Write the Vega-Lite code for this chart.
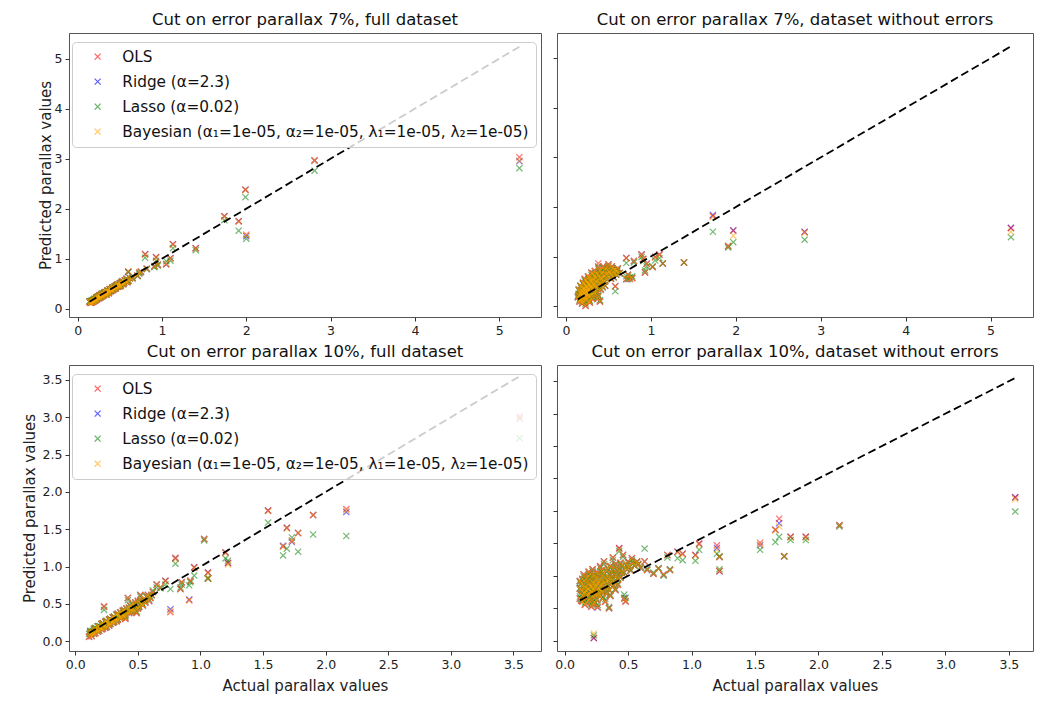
{
  "$schema": "https://vega.github.io/schema/vega-lite/v6.json",
  "background": "white",
  "padding": {"left": 21, "top": 11, "right": 4, "bottom": 4},
  "config": {
    "font": "DejaVu Sans",
    "view": {"stroke": "#555555", "strokeWidth": 1},
    "axis": {"grid": false, "domain": false, "tickColor": "#333333", "tickSize": 4, "labelFontSize": 12.5, "labelColor": "#222222", "labelPadding": 3, "titleFontSize": 15, "titleFontWeight": "normal", "titleColor": "#222222", "titlePadding": 5},
    "axisX": {"titlePadding": 8},
    "title": {"fontSize": 16.5, "fontWeight": "normal", "color": "#111111", "offset": 5, "anchor": "middle"},
    "legend": {"orient": "none", "legendX": 3, "legendY": 9, "padding": 7, "fillColor": "rgba(255,255,255,0.8)", "strokeColor": "#cccccc", "cornerRadius": 4, "labelFontSize": 15.3, "labelColor": "#111111", "symbolType": "M-1,-1L1,1M-1,1L1,-1", "symbolSize": 36, "symbolStrokeWidth": 1.3, "symbolOpacity": 0.6, "symbolFillColor": "transparent", "symbolOffset": 11, "labelOffset": 17, "rowPadding": 9, "labelLimit": 700}
  },
  "datasets": {
    "pts": [
      {"panel":"A","actual":0.15,"OLS":0.12,"Ridge":0.12,"Lasso":0.14,"Bayesian":0.12},
      {"panel":"A","actual":0.16,"OLS":0.15,"Ridge":0.15,"Lasso":0.16,"Bayesian":0.15},
      {"panel":"A","actual":0.17,"OLS":0.13,"Ridge":0.13,"Lasso":0.15,"Bayesian":0.13},
      {"panel":"A","actual":0.18,"OLS":0.17,"Ridge":0.17,"Lasso":0.18,"Bayesian":0.17},
      {"panel":"A","actual":0.19,"OLS":0.15,"Ridge":0.15,"Lasso":0.16,"Bayesian":0.15},
      {"panel":"A","actual":0.20,"OLS":0.19,"Ridge":0.19,"Lasso":0.20,"Bayesian":0.19},
      {"panel":"A","actual":0.21,"OLS":0.17,"Ridge":0.17,"Lasso":0.18,"Bayesian":0.17},
      {"panel":"A","actual":0.22,"OLS":0.22,"Ridge":0.22,"Lasso":0.22,"Bayesian":0.22},
      {"panel":"A","actual":0.23,"OLS":0.19,"Ridge":0.19,"Lasso":0.20,"Bayesian":0.19},
      {"panel":"A","actual":0.24,"OLS":0.24,"Ridge":0.24,"Lasso":0.23,"Bayesian":0.24},
      {"panel":"A","actual":0.25,"OLS":0.21,"Ridge":0.21,"Lasso":0.22,"Bayesian":0.21},
      {"panel":"A","actual":0.26,"OLS":0.27,"Ridge":0.27,"Lasso":0.26,"Bayesian":0.27},
      {"panel":"A","actual":0.27,"OLS":0.23,"Ridge":0.23,"Lasso":0.24,"Bayesian":0.23},
      {"panel":"A","actual":0.28,"OLS":0.25,"Ridge":0.25,"Lasso":0.26,"Bayesian":0.25},
      {"panel":"A","actual":0.29,"OLS":0.30,"Ridge":0.30,"Lasso":0.29,"Bayesian":0.30},
      {"panel":"A","actual":0.30,"OLS":0.26,"Ridge":0.26,"Lasso":0.27,"Bayesian":0.26},
      {"panel":"A","actual":0.31,"OLS":0.28,"Ridge":0.28,"Lasso":0.29,"Bayesian":0.28},
      {"panel":"A","actual":0.32,"OLS":0.33,"Ridge":0.33,"Lasso":0.32,"Bayesian":0.33},
      {"panel":"A","actual":0.33,"OLS":0.29,"Ridge":0.29,"Lasso":0.30,"Bayesian":0.29},
      {"panel":"A","actual":0.34,"OLS":0.31,"Ridge":0.31,"Lasso":0.32,"Bayesian":0.31},
      {"panel":"A","actual":0.35,"OLS":0.36,"Ridge":0.36,"Lasso":0.35,"Bayesian":0.36},
      {"panel":"A","actual":0.36,"OLS":0.32,"Ridge":0.32,"Lasso":0.33,"Bayesian":0.32},
      {"panel":"A","actual":0.37,"OLS":0.34,"Ridge":0.34,"Lasso":0.35,"Bayesian":0.34},
      {"panel":"A","actual":0.38,"OLS":0.39,"Ridge":0.39,"Lasso":0.38,"Bayesian":0.39},
      {"panel":"A","actual":0.39,"OLS":0.35,"Ridge":0.35,"Lasso":0.36,"Bayesian":0.35},
      {"panel":"A","actual":0.40,"OLS":0.37,"Ridge":0.37,"Lasso":0.38,"Bayesian":0.37},
      {"panel":"A","actual":0.41,"OLS":0.42,"Ridge":0.42,"Lasso":0.41,"Bayesian":0.42},
      {"panel":"A","actual":0.42,"OLS":0.38,"Ridge":0.38,"Lasso":0.39,"Bayesian":0.38},
      {"panel":"A","actual":0.43,"OLS":0.41,"Ridge":0.41,"Lasso":0.42,"Bayesian":0.41},
      {"panel":"A","actual":0.44,"OLS":0.45,"Ridge":0.45,"Lasso":0.44,"Bayesian":0.45},
      {"panel":"A","actual":0.45,"OLS":0.41,"Ridge":0.41,"Lasso":0.42,"Bayesian":0.41},
      {"panel":"A","actual":0.46,"OLS":0.44,"Ridge":0.44,"Lasso":0.45,"Bayesian":0.44},
      {"panel":"A","actual":0.47,"OLS":0.48,"Ridge":0.48,"Lasso":0.47,"Bayesian":0.48},
      {"panel":"A","actual":0.48,"OLS":0.44,"Ridge":0.44,"Lasso":0.45,"Bayesian":0.44},
      {"panel":"A","actual":0.49,"OLS":0.47,"Ridge":0.47,"Lasso":0.48,"Bayesian":0.47},
      {"panel":"A","actual":0.50,"OLS":0.51,"Ridge":0.51,"Lasso":0.50,"Bayesian":0.51},
      {"panel":"A","actual":0.51,"OLS":0.46,"Ridge":0.46,"Lasso":0.47,"Bayesian":0.46},
      {"panel":"A","actual":0.52,"OLS":0.50,"Ridge":0.50,"Lasso":0.51,"Bayesian":0.50},
      {"panel":"A","actual":0.53,"OLS":0.55,"Ridge":0.55,"Lasso":0.54,"Bayesian":0.55},
      {"panel":"A","actual":0.55,"OLS":0.52,"Ridge":0.52,"Lasso":0.53,"Bayesian":0.52},
      {"panel":"A","actual":0.57,"OLS":0.55,"Ridge":0.55,"Lasso":0.56,"Bayesian":0.55},
      {"panel":"A","actual":0.58,"OLS":0.60,"Ridge":0.60,"Lasso":0.58,"Bayesian":0.60},
      {"panel":"A","actual":0.60,"OLS":0.56,"Ridge":0.56,"Lasso":0.57,"Bayesian":0.56},
      {"panel":"A","actual":0.60,"OLS":0.74,"Ridge":0.74,"Lasso":0.73,"Bayesian":0.75},
      {"panel":"A","actual":0.62,"OLS":0.61,"Ridge":0.61,"Lasso":0.61,"Bayesian":0.61},
      {"panel":"A","actual":0.65,"OLS":0.61,"Ridge":0.61,"Lasso":0.62,"Bayesian":0.61},
      {"panel":"A","actual":0.71,"OLS":0.66,"Ridge":0.66,"Lasso":0.65,"Bayesian":0.66},
      {"panel":"A","actual":0.73,"OLS":0.72,"Ridge":0.72,"Lasso":0.70,"Bayesian":0.72},
      {"panel":"A","actual":0.75,"OLS":0.74,"Ridge":0.74,"Lasso":0.73,"Bayesian":0.74},
      {"panel":"A","actual":0.80,"OLS":1.09,"Ridge":1.09,"Lasso":1.02,"Bayesian":1.08},
      {"panel":"A","actual":0.82,"OLS":0.80,"Ridge":0.80,"Lasso":0.79,"Bayesian":0.80},
      {"panel":"A","actual":0.91,"OLS":0.85,"Ridge":0.85,"Lasso":0.83,"Bayesian":0.85},
      {"panel":"A","actual":0.93,"OLS":1.03,"Ridge":1.03,"Lasso":0.96,"Bayesian":1.02},
      {"panel":"A","actual":0.95,"OLS":0.88,"Ridge":0.88,"Lasso":0.86,"Bayesian":0.88},
      {"panel":"A","actual":1.05,"OLS":0.89,"Ridge":0.89,"Lasso":0.95,"Bayesian":0.90},
      {"panel":"A","actual":1.10,"OLS":1.01,"Ridge":1.01,"Lasso":0.96,"Bayesian":1.00},
      {"panel":"A","actual":1.13,"OLS":1.29,"Ridge":1.29,"Lasso":1.21,"Bayesian":1.28},
      {"panel":"A","actual":1.40,"OLS":1.21,"Ridge":1.21,"Lasso":1.17,"Bayesian":1.20},
      {"panel":"A","actual":1.74,"OLS":1.85,"Ridge":1.85,"Lasso":1.77,"Bayesian":1.84},
      {"panel":"A","actual":1.91,"OLS":1.75,"Ridge":1.75,"Lasso":1.56,"Bayesian":1.74},
      {"panel":"A","actual":1.99,"OLS":2.38,"Ridge":2.38,"Lasso":2.23,"Bayesian":2.37},
      {"panel":"A","actual":2.00,"OLS":1.48,"Ridge":1.45,"Lasso":1.40,"Bayesian":1.47},
      {"panel":"A","actual":2.81,"OLS":2.97,"Ridge":2.96,"Lasso":2.76,"Bayesian":2.96},
      {"panel":"A","actual":5.24,"OLS":3.03,"Ridge":2.95,"Lasso":2.81,"Bayesian":2.96},
      {"panel":"A","actual":0.14,"OLS":0.14,"Ridge":0.14,"Lasso":0.15,"Bayesian":0.14},
      {"panel":"A","actual":0.16,"OLS":0.12,"Ridge":0.12,"Lasso":0.14,"Bayesian":0.12},
      {"panel":"A","actual":0.18,"OLS":0.14,"Ridge":0.14,"Lasso":0.16,"Bayesian":0.14},
      {"panel":"A","actual":0.20,"OLS":0.16,"Ridge":0.16,"Lasso":0.17,"Bayesian":0.16},
      {"panel":"A","actual":0.22,"OLS":0.18,"Ridge":0.18,"Lasso":0.20,"Bayesian":0.18},
      {"panel":"A","actual":0.23,"OLS":0.23,"Ridge":0.23,"Lasso":0.23,"Bayesian":0.23},
      {"panel":"A","actual":0.25,"OLS":0.25,"Ridge":0.25,"Lasso":0.25,"Bayesian":0.25},
      {"panel":"A","actual":0.26,"OLS":0.22,"Ridge":0.22,"Lasso":0.23,"Bayesian":0.22},
      {"panel":"A","actual":0.28,"OLS":0.28,"Ridge":0.28,"Lasso":0.28,"Bayesian":0.28},
      {"panel":"A","actual":0.29,"OLS":0.25,"Ridge":0.25,"Lasso":0.26,"Bayesian":0.25},
      {"panel":"A","actual":0.31,"OLS":0.31,"Ridge":0.31,"Lasso":0.31,"Bayesian":0.31},
      {"panel":"A","actual":0.33,"OLS":0.33,"Ridge":0.33,"Lasso":0.33,"Bayesian":0.33},
      {"panel":"A","actual":0.34,"OLS":0.28,"Ridge":0.28,"Lasso":0.30,"Bayesian":0.28},
      {"panel":"A","actual":0.36,"OLS":0.36,"Ridge":0.36,"Lasso":0.36,"Bayesian":0.36},
      {"panel":"A","actual":0.37,"OLS":0.31,"Ridge":0.31,"Lasso":0.33,"Bayesian":0.31},
      {"panel":"A","actual":0.39,"OLS":0.39,"Ridge":0.39,"Lasso":0.38,"Bayesian":0.39},
      {"panel":"A","actual":0.41,"OLS":0.37,"Ridge":0.37,"Lasso":0.38,"Bayesian":0.37},
      {"panel":"A","actual":0.42,"OLS":0.42,"Ridge":0.42,"Lasso":0.42,"Bayesian":0.42},
      {"panel":"A","actual":0.44,"OLS":0.40,"Ridge":0.40,"Lasso":0.41,"Bayesian":0.40},
      {"panel":"A","actual":0.46,"OLS":0.47,"Ridge":0.47,"Lasso":0.46,"Bayesian":0.47},
      {"panel":"A","actual":0.48,"OLS":0.48,"Ridge":0.48,"Lasso":0.48,"Bayesian":0.48},
      {"panel":"A","actual":0.50,"OLS":0.45,"Ridge":0.45,"Lasso":0.46,"Bayesian":0.45},
      {"panel":"A","actual":0.52,"OLS":0.53,"Ridge":0.53,"Lasso":0.52,"Bayesian":0.53},
      {"panel":"A","actual":0.54,"OLS":0.49,"Ridge":0.49,"Lasso":0.50,"Bayesian":0.49},
      {"panel":"A","actual":0.56,"OLS":0.57,"Ridge":0.57,"Lasso":0.56,"Bayesian":0.57},
      {"panel":"A","actual":0.59,"OLS":0.53,"Ridge":0.53,"Lasso":0.55,"Bayesian":0.53},

      {"panel":"B","actual":0.15,"OLS":0.22,"Ridge":0.23,"Lasso":0.25,"Bayesian":0.22},
      {"panel":"B","actual":0.16,"OLS":0.30,"Ridge":0.30,"Lasso":0.31,"Bayesian":0.30},
      {"panel":"B","actual":0.17,"OLS":0.12,"Ridge":0.12,"Lasso":0.16,"Bayesian":0.12},
      {"panel":"B","actual":0.18,"OLS":0.38,"Ridge":0.38,"Lasso":0.36,"Bayesian":0.38},
      {"panel":"B","actual":0.18,"OLS":0.20,"Ridge":0.20,"Lasso":0.22,"Bayesian":0.20},
      {"panel":"B","actual":0.19,"OLS":0.05,"Ridge":0.05,"Lasso":0.09,"Bayesian":0.06},
      {"panel":"B","actual":0.20,"OLS":0.28,"Ridge":0.29,"Lasso":0.29,"Bayesian":0.28},
      {"panel":"B","actual":0.21,"OLS":0.45,"Ridge":0.45,"Lasso":0.42,"Bayesian":0.45},
      {"panel":"B","actual":0.21,"OLS":0.15,"Ridge":0.16,"Lasso":0.18,"Bayesian":0.15},
      {"panel":"B","actual":0.22,"OLS":0.35,"Ridge":0.35,"Lasso":0.35,"Bayesian":0.35},
      {"panel":"B","actual":0.23,"OLS":0.00,"Ridge":0.01,"Lasso":0.05,"Bayesian":0.01},
      {"panel":"B","actual":0.23,"OLS":0.25,"Ridge":0.25,"Lasso":0.26,"Bayesian":0.25},
      {"panel":"B","actual":0.24,"OLS":0.52,"Ridge":0.52,"Lasso":0.48,"Bayesian":0.52},
      {"panel":"B","actual":0.24,"OLS":0.40,"Ridge":0.40,"Lasso":0.40,"Bayesian":0.40},
      {"panel":"B","actual":0.25,"OLS":0.18,"Ridge":0.18,"Lasso":0.20,"Bayesian":0.18},
      {"panel":"B","actual":0.25,"OLS":0.32,"Ridge":0.32,"Lasso":0.32,"Bayesian":0.32},
      {"panel":"B","actual":0.26,"OLS":0.60,"Ridge":0.59,"Lasso":0.55,"Bayesian":0.59},
      {"panel":"B","actual":0.27,"OLS":0.45,"Ridge":0.45,"Lasso":0.44,"Bayesian":0.45},
      {"panel":"B","actual":0.27,"OLS":0.10,"Ridge":0.10,"Lasso":0.13,"Bayesian":0.10},
      {"panel":"B","actual":0.28,"OLS":0.30,"Ridge":0.30,"Lasso":0.31,"Bayesian":0.30},
      {"panel":"B","actual":0.29,"OLS":0.38,"Ridge":0.38,"Lasso":0.38,"Bayesian":0.38},
      {"panel":"B","actual":0.30,"OLS":0.55,"Ridge":0.55,"Lasso":0.52,"Bayesian":0.55},
      {"panel":"B","actual":0.30,"OLS":0.22,"Ridge":0.22,"Lasso":0.24,"Bayesian":0.22},
      {"panel":"B","actual":0.31,"OLS":0.48,"Ridge":0.48,"Lasso":0.47,"Bayesian":0.48},
      {"panel":"B","actual":0.32,"OLS":0.66,"Ridge":0.65,"Lasso":0.61,"Bayesian":0.65},
      {"panel":"B","actual":0.32,"OLS":0.35,"Ridge":0.35,"Lasso":0.36,"Bayesian":0.35},
      {"panel":"B","actual":0.33,"OLS":0.28,"Ridge":0.28,"Lasso":0.30,"Bayesian":0.28},
      {"panel":"B","actual":0.34,"OLS":0.42,"Ridge":0.42,"Lasso":0.42,"Bayesian":0.42},
      {"panel":"B","actual":0.35,"OLS":0.58,"Ridge":0.58,"Lasso":0.56,"Bayesian":0.58},
      {"panel":"B","actual":0.36,"OLS":0.50,"Ridge":0.50,"Lasso":0.49,"Bayesian":0.50},
      {"panel":"B","actual":0.37,"OLS":0.15,"Ridge":0.14,"Lasso":0.17,"Bayesian":0.15},
      {"panel":"B","actual":0.37,"OLS":0.35,"Ridge":0.35,"Lasso":0.37,"Bayesian":0.35},
      {"panel":"B","actual":0.38,"OLS":0.86,"Ridge":0.80,"Lasso":0.78,"Bayesian":0.80},
      {"panel":"B","actual":0.39,"OLS":0.62,"Ridge":0.62,"Lasso":0.60,"Bayesian":0.62},
      {"panel":"B","actual":0.40,"OLS":0.09,"Ridge":0.10,"Lasso":0.12,"Bayesian":0.10},
      {"panel":"B","actual":0.40,"OLS":0.45,"Ridge":0.45,"Lasso":0.45,"Bayesian":0.45},
      {"panel":"B","actual":0.41,"OLS":0.72,"Ridge":0.72,"Lasso":0.68,"Bayesian":0.72},
      {"panel":"B","actual":0.42,"OLS":0.55,"Ridge":0.55,"Lasso":0.54,"Bayesian":0.55},
      {"panel":"B","actual":0.43,"OLS":0.38,"Ridge":0.38,"Lasso":0.40,"Bayesian":0.38},
      {"panel":"B","actual":0.44,"OLS":0.80,"Ridge":0.80,"Lasso":0.76,"Bayesian":0.80},
      {"panel":"B","actual":0.45,"OLS":0.62,"Ridge":0.62,"Lasso":0.60,"Bayesian":0.62},
      {"panel":"B","actual":0.46,"OLS":0.50,"Ridge":0.50,"Lasso":0.50,"Bayesian":0.50},
      {"panel":"B","actual":0.48,"OLS":0.72,"Ridge":0.72,"Lasso":0.70,"Bayesian":0.72},
      {"panel":"B","actual":0.50,"OLS":0.84,"Ridge":0.84,"Lasso":0.80,"Bayesian":0.84},
      {"panel":"B","actual":0.50,"OLS":0.62,"Ridge":0.62,"Lasso":0.61,"Bayesian":0.62},
      {"panel":"B","actual":0.52,"OLS":0.68,"Ridge":0.68,"Lasso":0.66,"Bayesian":0.68},
      {"panel":"B","actual":0.53,"OLS":0.55,"Ridge":0.55,"Lasso":0.56,"Bayesian":0.55},
      {"panel":"B","actual":0.55,"OLS":0.75,"Ridge":0.75,"Lasso":0.73,"Bayesian":0.75},
      {"panel":"B","actual":0.57,"OLS":0.66,"Ridge":0.66,"Lasso":0.66,"Bayesian":0.66},
      {"panel":"B","actual":0.58,"OLS":0.40,"Ridge":0.40,"Lasso":0.30,"Bayesian":0.40},
      {"panel":"B","actual":0.58,"OLS":0.73,"Ridge":0.73,"Lasso":0.72,"Bayesian":0.73},
      {"panel":"B","actual":0.60,"OLS":0.70,"Ridge":0.70,"Lasso":0.69,"Bayesian":0.70},
      {"panel":"B","actual":0.63,"OLS":0.67,"Ridge":0.67,"Lasso":0.66,"Bayesian":0.67},
      {"panel":"B","actual":0.71,"OLS":0.97,"Ridge":0.97,"Lasso":0.87,"Bayesian":0.96},
      {"panel":"B","actual":0.71,"OLS":0.55,"Ridge":0.54,"Lasso":0.60,"Bayesian":0.55},
      {"panel":"B","actual":0.73,"OLS":0.63,"Ridge":0.63,"Lasso":0.54,"Bayesian":0.63},
      {"panel":"B","actual":0.75,"OLS":0.55,"Ridge":0.55,"Lasso":0.58,"Bayesian":0.55},
      {"panel":"B","actual":0.78,"OLS":0.56,"Ridge":0.57,"Lasso":0.60,"Bayesian":0.57},
      {"panel":"B","actual":0.80,"OLS":0.91,"Ridge":0.91,"Lasso":0.88,"Bayesian":0.91},
      {"panel":"B","actual":0.89,"OLS":1.04,"Ridge":1.04,"Lasso":0.99,"Bayesian":1.03},
      {"panel":"B","actual":0.91,"OLS":0.95,"Ridge":0.95,"Lasso":0.91,"Bayesian":0.94},
      {"panel":"B","actual":0.93,"OLS":0.68,"Ridge":0.68,"Lasso":0.72,"Bayesian":0.68},
      {"panel":"B","actual":0.95,"OLS":0.85,"Ridge":0.86,"Lasso":0.80,"Bayesian":0.85},
      {"panel":"B","actual":1.02,"OLS":0.79,"Ridge":0.79,"Lasso":0.80,"Bayesian":0.79},
      {"panel":"B","actual":1.05,"OLS":0.99,"Ridge":0.99,"Lasso":0.92,"Bayesian":0.98},
      {"panel":"B","actual":1.10,"OLS":1.04,"Ridge":1.04,"Lasso":0.97,"Bayesian":1.03},
      {"panel":"B","actual":1.14,"OLS":0.86,"Ridge":0.86,"Lasso":0.86,"Bayesian":0.86},
      {"panel":"B","actual":1.39,"OLS":0.88,"Ridge":0.88,"Lasso":0.88,"Bayesian":0.88},
      {"panel":"B","actual":1.73,"OLS":1.82,"Ridge":1.84,"Lasso":1.50,"Bayesian":1.80},
      {"panel":"B","actual":1.91,"OLS":1.21,"Ridge":1.21,"Lasso":1.18,"Bayesian":1.21},
      {"panel":"B","actual":1.97,"OLS":1.52,"Ridge":1.53,"Lasso":1.29,"Bayesian":1.42},
      {"panel":"B","actual":2.81,"OLS":1.49,"Ridge":1.50,"Lasso":1.34,"Bayesian":1.48},
      {"panel":"B","actual":5.24,"OLS":1.57,"Ridge":1.58,"Lasso":1.39,"Bayesian":1.50},
      {"panel":"B","actual":0.14,"OLS":0.18,"Ridge":0.18,"Lasso":0.20,"Bayesian":0.18},
      {"panel":"B","actual":0.15,"OLS":0.33,"Ridge":0.33,"Lasso":0.33,"Bayesian":0.33},
      {"panel":"B","actual":0.16,"OLS":0.09,"Ridge":0.10,"Lasso":0.13,"Bayesian":0.10},
      {"panel":"B","actual":0.17,"OLS":0.26,"Ridge":0.26,"Lasso":0.27,"Bayesian":0.26},
      {"panel":"B","actual":0.17,"OLS":0.41,"Ridge":0.41,"Lasso":0.40,"Bayesian":0.41},
      {"panel":"B","actual":0.18,"OLS":0.14,"Ridge":0.14,"Lasso":0.17,"Bayesian":0.14},
      {"panel":"B","actual":0.19,"OLS":0.31,"Ridge":0.32,"Lasso":0.32,"Bayesian":0.32},
      {"panel":"B","actual":0.19,"OLS":0.22,"Ridge":0.22,"Lasso":0.24,"Bayesian":0.22},
      {"panel":"B","actual":0.20,"OLS":0.47,"Ridge":0.47,"Lasso":0.45,"Bayesian":0.47},
      {"panel":"B","actual":0.20,"OLS":0.11,"Ridge":0.11,"Lasso":0.14,"Bayesian":0.11},
      {"panel":"B","actual":0.21,"OLS":0.36,"Ridge":0.36,"Lasso":0.36,"Bayesian":0.36},
      {"panel":"B","actual":0.21,"OLS":0.26,"Ridge":0.26,"Lasso":0.27,"Bayesian":0.26},
      {"panel":"B","actual":0.22,"OLS":0.20,"Ridge":0.20,"Lasso":0.22,"Bayesian":0.20},
      {"panel":"B","actual":0.22,"OLS":0.55,"Ridge":0.54,"Lasso":0.51,"Bayesian":0.54},
      {"panel":"B","actual":0.23,"OLS":0.43,"Ridge":0.43,"Lasso":0.42,"Bayesian":0.43},
      {"panel":"B","actual":0.23,"OLS":0.31,"Ridge":0.31,"Lasso":0.32,"Bayesian":0.31},
      {"panel":"B","actual":0.24,"OLS":0.13,"Ridge":0.13,"Lasso":0.16,"Bayesian":0.13},
      {"panel":"B","actual":0.24,"OLS":0.28,"Ridge":0.28,"Lasso":0.29,"Bayesian":0.28},
      {"panel":"B","actual":0.25,"OLS":0.48,"Ridge":0.48,"Lasso":0.46,"Bayesian":0.48},
      {"panel":"B","actual":0.25,"OLS":0.38,"Ridge":0.38,"Lasso":0.38,"Bayesian":0.38},
      {"panel":"B","actual":0.26,"OLS":0.24,"Ridge":0.24,"Lasso":0.26,"Bayesian":0.24},
      {"panel":"B","actual":0.26,"OLS":0.34,"Ridge":0.34,"Lasso":0.35,"Bayesian":0.34},
      {"panel":"B","actual":0.27,"OLS":0.58,"Ridge":0.58,"Lasso":0.55,"Bayesian":0.58},
      {"panel":"B","actual":0.27,"OLS":0.19,"Ridge":0.19,"Lasso":0.21,"Bayesian":0.19},
      {"panel":"B","actual":0.28,"OLS":0.42,"Ridge":0.42,"Lasso":0.42,"Bayesian":0.42},
      {"panel":"B","actual":0.28,"OLS":0.07,"Ridge":0.08,"Lasso":0.11,"Bayesian":0.08},
      {"panel":"B","actual":0.29,"OLS":0.50,"Ridge":0.50,"Lasso":0.48,"Bayesian":0.50},
      {"panel":"B","actual":0.29,"OLS":0.27,"Ridge":0.27,"Lasso":0.28,"Bayesian":0.27},
      {"panel":"B","actual":0.30,"OLS":0.36,"Ridge":0.36,"Lasso":0.37,"Bayesian":0.36},
      {"panel":"B","actual":0.30,"OLS":0.68,"Ridge":0.67,"Lasso":0.63,"Bayesian":0.67},
      {"panel":"B","actual":0.31,"OLS":0.15,"Ridge":0.15,"Lasso":0.18,"Bayesian":0.15},
      {"panel":"B","actual":0.31,"OLS":0.40,"Ridge":0.40,"Lasso":0.40,"Bayesian":0.40},
      {"panel":"B","actual":0.32,"OLS":0.54,"Ridge":0.54,"Lasso":0.52,"Bayesian":0.54},
      {"panel":"B","actual":0.33,"OLS":0.46,"Ridge":0.46,"Lasso":0.45,"Bayesian":0.46},
      {"panel":"B","actual":0.33,"OLS":0.62,"Ridge":0.62,"Lasso":0.59,"Bayesian":0.62},
      {"panel":"B","actual":0.34,"OLS":0.24,"Ridge":0.24,"Lasso":0.26,"Bayesian":0.24},
      {"panel":"B","actual":0.34,"OLS":0.71,"Ridge":0.71,"Lasso":0.67,"Bayesian":0.71},
      {"panel":"B","actual":0.35,"OLS":0.38,"Ridge":0.38,"Lasso":0.39,"Bayesian":0.38},
      {"panel":"B","actual":0.36,"OLS":0.29,"Ridge":0.29,"Lasso":0.31,"Bayesian":0.29},
      {"panel":"B","actual":0.36,"OLS":0.64,"Ridge":0.64,"Lasso":0.61,"Bayesian":0.64},
      {"panel":"B","actual":0.37,"OLS":0.52,"Ridge":0.52,"Lasso":0.51,"Bayesian":0.52},
      {"panel":"B","actual":0.38,"OLS":0.44,"Ridge":0.44,"Lasso":0.44,"Bayesian":0.44},
      {"panel":"B","actual":0.38,"OLS":0.20,"Ridge":0.20,"Lasso":0.22,"Bayesian":0.20},
      {"panel":"B","actual":0.39,"OLS":0.74,"Ridge":0.73,"Lasso":0.70,"Bayesian":0.73},
      {"panel":"B","actual":0.40,"OLS":0.57,"Ridge":0.57,"Lasso":0.56,"Bayesian":0.57},
      {"panel":"B","actual":0.41,"OLS":0.33,"Ridge":0.33,"Lasso":0.35,"Bayesian":0.33},
      {"panel":"B","actual":0.42,"OLS":0.66,"Ridge":0.66,"Lasso":0.64,"Bayesian":0.66},
      {"panel":"B","actual":0.43,"OLS":0.49,"Ridge":0.49,"Lasso":0.49,"Bayesian":0.49},
      {"panel":"B","actual":0.44,"OLS":0.58,"Ridge":0.58,"Lasso":0.57,"Bayesian":0.58},
      {"panel":"B","actual":0.45,"OLS":0.73,"Ridge":0.73,"Lasso":0.70,"Bayesian":0.73},
      {"panel":"B","actual":0.46,"OLS":0.41,"Ridge":0.41,"Lasso":0.42,"Bayesian":0.41},
      {"panel":"B","actual":0.47,"OLS":0.64,"Ridge":0.64,"Lasso":0.63,"Bayesian":0.64},
      {"panel":"B","actual":0.48,"OLS":0.55,"Ridge":0.55,"Lasso":0.55,"Bayesian":0.55},
      {"panel":"B","actual":0.49,"OLS":0.79,"Ridge":0.79,"Lasso":0.75,"Bayesian":0.79},
      {"panel":"B","actual":0.51,"OLS":0.70,"Ridge":0.70,"Lasso":0.68,"Bayesian":0.70},
      {"panel":"B","actual":0.53,"OLS":0.63,"Ridge":0.63,"Lasso":0.62,"Bayesian":0.63},
      {"panel":"B","actual":0.54,"OLS":0.80,"Ridge":0.80,"Lasso":0.77,"Bayesian":0.80},
      {"panel":"B","actual":0.56,"OLS":0.58,"Ridge":0.58,"Lasso":0.59,"Bayesian":0.58},
      {"panel":"B","actual":0.59,"OLS":0.64,"Ridge":0.64,"Lasso":0.64,"Bayesian":0.64},
      {"panel":"B","actual":0.61,"OLS":0.76,"Ridge":0.76,"Lasso":0.74,"Bayesian":0.76},

      {"panel":"C","actual":0.11,"OLS":0.06,"Ridge":0.06,"Lasso":0.10,"Bayesian":0.06},
      {"panel":"C","actual":0.12,"OLS":0.10,"Ridge":0.10,"Lasso":0.12,"Bayesian":0.10},
      {"panel":"C","actual":0.13,"OLS":0.07,"Ridge":0.07,"Lasso":0.10,"Bayesian":0.07},
      {"panel":"C","actual":0.14,"OLS":0.12,"Ridge":0.12,"Lasso":0.14,"Bayesian":0.12},
      {"panel":"C","actual":0.15,"OLS":0.16,"Ridge":0.16,"Lasso":0.17,"Bayesian":0.16},
      {"panel":"C","actual":0.16,"OLS":0.11,"Ridge":0.11,"Lasso":0.14,"Bayesian":0.11},
      {"panel":"C","actual":0.17,"OLS":0.15,"Ridge":0.15,"Lasso":0.17,"Bayesian":0.15},
      {"panel":"C","actual":0.18,"OLS":0.20,"Ridge":0.20,"Lasso":0.20,"Bayesian":0.20},
      {"panel":"C","actual":0.19,"OLS":0.14,"Ridge":0.14,"Lasso":0.16,"Bayesian":0.14},
      {"panel":"C","actual":0.20,"OLS":0.18,"Ridge":0.18,"Lasso":0.20,"Bayesian":0.18},
      {"panel":"C","actual":0.21,"OLS":0.23,"Ridge":0.23,"Lasso":0.23,"Bayesian":0.23},
      {"panel":"C","actual":0.22,"OLS":0.17,"Ridge":0.17,"Lasso":0.19,"Bayesian":0.17},
      {"panel":"C","actual":0.23,"OLS":0.47,"Ridge":0.46,"Lasso":0.42,"Bayesian":0.46},
      {"panel":"C","actual":0.23,"OLS":0.21,"Ridge":0.21,"Lasso":0.22,"Bayesian":0.21},
      {"panel":"C","actual":0.24,"OLS":0.26,"Ridge":0.26,"Lasso":0.26,"Bayesian":0.26},
      {"panel":"C","actual":0.25,"OLS":0.19,"Ridge":0.19,"Lasso":0.21,"Bayesian":0.19},
      {"panel":"C","actual":0.26,"OLS":0.24,"Ridge":0.24,"Lasso":0.25,"Bayesian":0.24},
      {"panel":"C","actual":0.27,"OLS":0.29,"Ridge":0.29,"Lasso":0.29,"Bayesian":0.29},
      {"panel":"C","actual":0.28,"OLS":0.23,"Ridge":0.23,"Lasso":0.24,"Bayesian":0.23},
      {"panel":"C","actual":0.29,"OLS":0.27,"Ridge":0.27,"Lasso":0.28,"Bayesian":0.27},
      {"panel":"C","actual":0.30,"OLS":0.32,"Ridge":0.32,"Lasso":0.32,"Bayesian":0.32},
      {"panel":"C","actual":0.31,"OLS":0.26,"Ridge":0.26,"Lasso":0.27,"Bayesian":0.26},
      {"panel":"C","actual":0.32,"OLS":0.30,"Ridge":0.30,"Lasso":0.31,"Bayesian":0.30},
      {"panel":"C","actual":0.33,"OLS":0.36,"Ridge":0.36,"Lasso":0.35,"Bayesian":0.36},
      {"panel":"C","actual":0.34,"OLS":0.29,"Ridge":0.29,"Lasso":0.30,"Bayesian":0.29},
      {"panel":"C","actual":0.35,"OLS":0.33,"Ridge":0.33,"Lasso":0.34,"Bayesian":0.33},
      {"panel":"C","actual":0.36,"OLS":0.39,"Ridge":0.39,"Lasso":0.38,"Bayesian":0.39},
      {"panel":"C","actual":0.37,"OLS":0.32,"Ridge":0.32,"Lasso":0.33,"Bayesian":0.32},
      {"panel":"C","actual":0.38,"OLS":0.36,"Ridge":0.36,"Lasso":0.37,"Bayesian":0.36},
      {"panel":"C","actual":0.39,"OLS":0.42,"Ridge":0.42,"Lasso":0.41,"Bayesian":0.42},
      {"panel":"C","actual":0.40,"OLS":0.30,"Ridge":0.31,"Lasso":0.33,"Bayesian":0.31},
      {"panel":"C","actual":0.40,"OLS":0.35,"Ridge":0.35,"Lasso":0.36,"Bayesian":0.35},
      {"panel":"C","actual":0.41,"OLS":0.39,"Ridge":0.39,"Lasso":0.40,"Bayesian":0.39},
      {"panel":"C","actual":0.42,"OLS":0.58,"Ridge":0.58,"Lasso":0.55,"Bayesian":0.58},
      {"panel":"C","actual":0.43,"OLS":0.45,"Ridge":0.45,"Lasso":0.44,"Bayesian":0.45},
      {"panel":"C","actual":0.44,"OLS":0.40,"Ridge":0.40,"Lasso":0.41,"Bayesian":0.40},
      {"panel":"C","actual":0.45,"OLS":0.43,"Ridge":0.43,"Lasso":0.44,"Bayesian":0.43},
      {"panel":"C","actual":0.46,"OLS":0.50,"Ridge":0.50,"Lasso":0.48,"Bayesian":0.50},
      {"panel":"C","actual":0.47,"OLS":0.42,"Ridge":0.42,"Lasso":0.43,"Bayesian":0.42},
      {"panel":"C","actual":0.48,"OLS":0.47,"Ridge":0.47,"Lasso":0.47,"Bayesian":0.47},
      {"panel":"C","actual":0.49,"OLS":0.38,"Ridge":0.38,"Lasso":0.40,"Bayesian":0.38},
      {"panel":"C","actual":0.50,"OLS":0.54,"Ridge":0.54,"Lasso":0.52,"Bayesian":0.54},
      {"panel":"C","actual":0.51,"OLS":0.46,"Ridge":0.46,"Lasso":0.47,"Bayesian":0.46},
      {"panel":"C","actual":0.52,"OLS":0.62,"Ridge":0.62,"Lasso":0.60,"Bayesian":0.62},
      {"panel":"C","actual":0.53,"OLS":0.50,"Ridge":0.50,"Lasso":0.51,"Bayesian":0.50},
      {"panel":"C","actual":0.55,"OLS":0.57,"Ridge":0.57,"Lasso":0.56,"Bayesian":0.57},
      {"panel":"C","actual":0.56,"OLS":0.52,"Ridge":0.52,"Lasso":0.54,"Bayesian":0.52},
      {"panel":"C","actual":0.58,"OLS":0.62,"Ridge":0.62,"Lasso":0.60,"Bayesian":0.62},
      {"panel":"C","actual":0.60,"OLS":0.58,"Ridge":0.58,"Lasso":0.60,"Bayesian":0.58},
      {"panel":"C","actual":0.62,"OLS":0.66,"Ridge":0.66,"Lasso":0.68,"Bayesian":0.66},
      {"panel":"C","actual":0.65,"OLS":0.76,"Ridge":0.76,"Lasso":0.72,"Bayesian":0.76},
      {"panel":"C","actual":0.68,"OLS":0.72,"Ridge":0.72,"Lasso":0.71,"Bayesian":0.72},
      {"panel":"C","actual":0.72,"OLS":0.81,"Ridge":0.81,"Lasso":0.76,"Bayesian":0.80},
      {"panel":"C","actual":0.76,"OLS":0.39,"Ridge":0.43,"Lasso":0.70,"Bayesian":0.41},
      {"panel":"C","actual":0.80,"OLS":1.12,"Ridge":1.11,"Lasso":1.04,"Bayesian":1.10},
      {"panel":"C","actual":0.84,"OLS":0.70,"Ridge":0.70,"Lasso":0.72,"Bayesian":0.70},
      {"panel":"C","actual":0.85,"OLS":0.79,"Ridge":0.79,"Lasso":0.76,"Bayesian":0.79},
      {"panel":"C","actual":0.91,"OLS":0.55,"Ridge":0.56,"Lasso":0.75,"Bayesian":0.55},
      {"panel":"C","actual":0.92,"OLS":0.81,"Ridge":0.81,"Lasso":0.79,"Bayesian":0.81},
      {"panel":"C","actual":0.95,"OLS":0.99,"Ridge":0.99,"Lasso":0.88,"Bayesian":0.98},
      {"panel":"C","actual":1.03,"OLS":1.37,"Ridge":1.37,"Lasso":1.35,"Bayesian":1.37},
      {"panel":"C","actual":1.06,"OLS":0.92,"Ridge":0.92,"Lasso":0.84,"Bayesian":0.91},
      {"panel":"C","actual":1.06,"OLS":0.84,"Ridge":0.84,"Lasso":0.85,"Bayesian":0.84},
      {"panel":"C","actual":1.20,"OLS":1.19,"Ridge":1.19,"Lasso":1.11,"Bayesian":1.18},
      {"panel":"C","actual":1.22,"OLS":1.05,"Ridge":1.05,"Lasso":1.08,"Bayesian":1.03},
      {"panel":"C","actual":1.54,"OLS":1.75,"Ridge":1.75,"Lasso":1.59,"Bayesian":1.74},
      {"panel":"C","actual":1.66,"OLS":1.27,"Ridge":1.28,"Lasso":1.15,"Bayesian":1.27},
      {"panel":"C","actual":1.69,"OLS":1.52,"Ridge":1.52,"Lasso":1.24,"Bayesian":1.51},
      {"panel":"C","actual":1.73,"OLS":1.35,"Ridge":1.33,"Lasso":1.39,"Bayesian":1.34},
      {"panel":"C","actual":1.78,"OLS":1.45,"Ridge":1.45,"Lasso":1.20,"Bayesian":1.45},
      {"panel":"C","actual":1.90,"OLS":1.69,"Ridge":1.69,"Lasso":1.43,"Bayesian":1.69},
      {"panel":"C","actual":2.165,"OLS":1.77,"Ridge":1.73,"Lasso":1.41,"Bayesian":1.75},
      {"panel":"C","actual":3.55,"OLS":3.01,"Ridge":2.98,"Lasso":2.72,"Bayesian":2.98},
      {"panel":"C","actual":0.12,"OLS":0.13,"Ridge":0.13,"Lasso":0.14,"Bayesian":0.13},
      {"panel":"C","actual":0.13,"OLS":0.11,"Ridge":0.11,"Lasso":0.13,"Bayesian":0.11},
      {"panel":"C","actual":0.15,"OLS":0.10,"Ridge":0.10,"Lasso":0.13,"Bayesian":0.10},
      {"panel":"C","actual":0.16,"OLS":0.17,"Ridge":0.17,"Lasso":0.18,"Bayesian":0.17},
      {"panel":"C","actual":0.18,"OLS":0.13,"Ridge":0.13,"Lasso":0.15,"Bayesian":0.13},
      {"panel":"C","actual":0.19,"OLS":0.19,"Ridge":0.19,"Lasso":0.20,"Bayesian":0.19},
      {"panel":"C","actual":0.21,"OLS":0.16,"Ridge":0.16,"Lasso":0.18,"Bayesian":0.16},
      {"panel":"C","actual":0.22,"OLS":0.24,"Ridge":0.24,"Lasso":0.24,"Bayesian":0.24},
      {"panel":"C","actual":0.24,"OLS":0.18,"Ridge":0.18,"Lasso":0.20,"Bayesian":0.18},
      {"panel":"C","actual":0.25,"OLS":0.27,"Ridge":0.27,"Lasso":0.27,"Bayesian":0.27},
      {"panel":"C","actual":0.27,"OLS":0.21,"Ridge":0.21,"Lasso":0.23,"Bayesian":0.21},
      {"panel":"C","actual":0.28,"OLS":0.30,"Ridge":0.30,"Lasso":0.30,"Bayesian":0.30},
      {"panel":"C","actual":0.30,"OLS":0.25,"Ridge":0.25,"Lasso":0.26,"Bayesian":0.25},
      {"panel":"C","actual":0.31,"OLS":0.33,"Ridge":0.33,"Lasso":0.33,"Bayesian":0.33},
      {"panel":"C","actual":0.33,"OLS":0.27,"Ridge":0.27,"Lasso":0.29,"Bayesian":0.27},
      {"panel":"C","actual":0.34,"OLS":0.37,"Ridge":0.37,"Lasso":0.36,"Bayesian":0.37},
      {"panel":"C","actual":0.36,"OLS":0.31,"Ridge":0.31,"Lasso":0.33,"Bayesian":0.31},
      {"panel":"C","actual":0.38,"OLS":0.41,"Ridge":0.41,"Lasso":0.40,"Bayesian":0.41},
      {"panel":"C","actual":0.39,"OLS":0.33,"Ridge":0.33,"Lasso":0.35,"Bayesian":0.33},
      {"panel":"C","actual":0.41,"OLS":0.44,"Ridge":0.44,"Lasso":0.43,"Bayesian":0.44},
      {"panel":"C","actual":0.43,"OLS":0.38,"Ridge":0.38,"Lasso":0.40,"Bayesian":0.38},
      {"panel":"C","actual":0.44,"OLS":0.48,"Ridge":0.48,"Lasso":0.47,"Bayesian":0.48},
      {"panel":"C","actual":0.46,"OLS":0.40,"Ridge":0.40,"Lasso":0.42,"Bayesian":0.40},
      {"panel":"C","actual":0.48,"OLS":0.52,"Ridge":0.52,"Lasso":0.50,"Bayesian":0.52},
      {"panel":"C","actual":0.50,"OLS":0.44,"Ridge":0.44,"Lasso":0.46,"Bayesian":0.44},
      {"panel":"C","actual":0.52,"OLS":0.55,"Ridge":0.55,"Lasso":0.54,"Bayesian":0.55},
      {"panel":"C","actual":0.54,"OLS":0.48,"Ridge":0.48,"Lasso":0.50,"Bayesian":0.48},
      {"panel":"C","actual":0.57,"OLS":0.60,"Ridge":0.60,"Lasso":0.59,"Bayesian":0.60},
      {"panel":"C","actual":0.59,"OLS":0.54,"Ridge":0.54,"Lasso":0.56,"Bayesian":0.54},
      {"panel":"C","actual":0.61,"OLS":0.62,"Ridge":0.62,"Lasso":0.62,"Bayesian":0.62},

      {"panel":"D","actual":0.12,"OLS":0.42,"Ridge":0.42,"Lasso":0.40,"Bayesian":0.42},
      {"panel":"D","actual":0.12,"OLS":0.15,"Ridge":0.15,"Lasso":0.18,"Bayesian":0.15},
      {"panel":"D","actual":0.13,"OLS":0.28,"Ridge":0.28,"Lasso":0.29,"Bayesian":0.28},
      {"panel":"D","actual":0.14,"OLS":0.20,"Ridge":0.20,"Lasso":0.22,"Bayesian":0.20},
      {"panel":"D","actual":0.14,"OLS":0.10,"Ridge":0.11,"Lasso":0.13,"Bayesian":0.10},
      {"panel":"D","actual":0.15,"OLS":0.35,"Ridge":0.35,"Lasso":0.34,"Bayesian":0.35},
      {"panel":"D","actual":0.16,"OLS":0.25,"Ridge":0.25,"Lasso":0.26,"Bayesian":0.25},
      {"panel":"D","actual":0.16,"OLS":0.05,"Ridge":0.06,"Lasso":0.09,"Bayesian":0.06},
      {"panel":"D","actual":0.17,"OLS":0.45,"Ridge":0.45,"Lasso":0.43,"Bayesian":0.45},
      {"panel":"D","actual":0.17,"OLS":0.18,"Ridge":0.18,"Lasso":0.20,"Bayesian":0.18},
      {"panel":"D","actual":0.18,"OLS":0.30,"Ridge":0.30,"Lasso":0.31,"Bayesian":0.30},
      {"panel":"D","actual":0.19,"OLS":0.38,"Ridge":0.38,"Lasso":0.38,"Bayesian":0.38},
      {"panel":"D","actual":0.19,"OLS":0.12,"Ridge":0.12,"Lasso":0.15,"Bayesian":0.12},
      {"panel":"D","actual":0.20,"OLS":0.52,"Ridge":0.52,"Lasso":0.49,"Bayesian":0.52},
      {"panel":"D","actual":0.20,"OLS":0.22,"Ridge":0.22,"Lasso":0.24,"Bayesian":0.22},
      {"panel":"D","actual":0.21,"OLS":0.02,"Ridge":0.03,"Lasso":0.06,"Bayesian":0.03},
      {"panel":"D","actual":0.21,"OLS":0.33,"Ridge":0.33,"Lasso":0.33,"Bayesian":0.33},
      {"panel":"D","actual":0.22,"OLS":0.60,"Ridge":0.60,"Lasso":0.57,"Bayesian":0.60},
      {"panel":"D","actual":0.22,"OLS":0.40,"Ridge":0.40,"Lasso":0.40,"Bayesian":0.40},
      {"panel":"D","actual":0.23,"OLS":-0.46,"Ridge":-0.46,"Lasso":-0.42,"Bayesian":-0.39},
      {"panel":"D","actual":0.23,"OLS":0.16,"Ridge":0.16,"Lasso":0.18,"Bayesian":0.16},
      {"panel":"D","actual":0.23,"OLS":0.28,"Ridge":0.28,"Lasso":0.29,"Bayesian":0.28},
      {"panel":"D","actual":0.24,"OLS":0.48,"Ridge":0.48,"Lasso":0.47,"Bayesian":0.48},
      {"panel":"D","actual":0.24,"OLS":0.08,"Ridge":0.08,"Lasso":0.10,"Bayesian":0.08},
      {"panel":"D","actual":0.25,"OLS":0.35,"Ridge":0.35,"Lasso":0.35,"Bayesian":0.35},
      {"panel":"D","actual":0.25,"OLS":0.22,"Ridge":0.22,"Lasso":0.24,"Bayesian":0.22},
      {"panel":"D","actual":0.26,"OLS":0.55,"Ridge":0.55,"Lasso":0.53,"Bayesian":0.55},
      {"panel":"D","actual":0.26,"OLS":0.02,"Ridge":0.01,"Lasso":0.05,"Bayesian":0.02},
      {"panel":"D","actual":0.27,"OLS":0.30,"Ridge":0.30,"Lasso":0.31,"Bayesian":0.30},
      {"panel":"D","actual":0.27,"OLS":0.42,"Ridge":0.42,"Lasso":0.42,"Bayesian":0.42},
      {"panel":"D","actual":0.28,"OLS":0.18,"Ridge":0.18,"Lasso":0.20,"Bayesian":0.18},
      {"panel":"D","actual":0.28,"OLS":0.65,"Ridge":0.64,"Lasso":0.62,"Bayesian":0.64},
      {"panel":"D","actual":0.29,"OLS":0.36,"Ridge":0.36,"Lasso":0.37,"Bayesian":0.36},
      {"panel":"D","actual":0.30,"OLS":0.50,"Ridge":0.50,"Lasso":0.49,"Bayesian":0.50},
      {"panel":"D","actual":0.30,"OLS":0.25,"Ridge":0.25,"Lasso":0.27,"Bayesian":0.25},
      {"panel":"D","actual":0.31,"OLS":0.72,"Ridge":0.72,"Lasso":0.68,"Bayesian":0.72},
      {"panel":"D","actual":0.32,"OLS":0.40,"Ridge":0.40,"Lasso":0.41,"Bayesian":0.40},
      {"panel":"D","actual":0.32,"OLS":0.10,"Ridge":0.10,"Lasso":0.14,"Bayesian":0.10},
      {"panel":"D","actual":0.33,"OLS":0.58,"Ridge":0.58,"Lasso":0.56,"Bayesian":0.58},
      {"panel":"D","actual":0.34,"OLS":0.32,"Ridge":0.32,"Lasso":0.33,"Bayesian":0.32},
      {"panel":"D","actual":0.35,"OLS":0.47,"Ridge":0.47,"Lasso":0.47,"Bayesian":0.47},
      {"panel":"D","actual":0.35,"OLS":0.00,"Ridge":0.00,"Lasso":0.02,"Bayesian":0.00},
      {"panel":"D","actual":0.36,"OLS":0.65,"Ridge":0.65,"Lasso":0.63,"Bayesian":0.65},
      {"panel":"D","actual":0.37,"OLS":0.38,"Ridge":0.38,"Lasso":0.40,"Bayesian":0.38},
      {"panel":"D","actual":0.38,"OLS":0.78,"Ridge":0.78,"Lasso":0.74,"Bayesian":0.78},
      {"panel":"D","actual":0.39,"OLS":0.52,"Ridge":0.52,"Lasso":0.52,"Bayesian":0.52},
      {"panel":"D","actual":0.40,"OLS":0.28,"Ridge":0.28,"Lasso":0.30,"Bayesian":0.28},
      {"panel":"D","actual":0.41,"OLS":0.60,"Ridge":0.60,"Lasso":0.59,"Bayesian":0.60},
      {"panel":"D","actual":0.42,"OLS":0.45,"Ridge":0.45,"Lasso":0.46,"Bayesian":0.45},
      {"panel":"D","actual":0.43,"OLS":0.93,"Ridge":0.92,"Lasso":0.88,"Bayesian":0.91},
      {"panel":"D","actual":0.44,"OLS":0.70,"Ridge":0.70,"Lasso":0.68,"Bayesian":0.70},
      {"panel":"D","actual":0.45,"OLS":0.55,"Ridge":0.55,"Lasso":0.56,"Bayesian":0.55},
      {"panel":"D","actual":0.46,"OLS":0.82,"Ridge":0.82,"Lasso":0.79,"Bayesian":0.82},
      {"panel":"D","actual":0.47,"OLS":0.14,"Ridge":0.16,"Lasso":0.21,"Bayesian":0.15},
      {"panel":"D","actual":0.48,"OLS":0.62,"Ridge":0.62,"Lasso":0.62,"Bayesian":0.62},
      {"panel":"D","actual":0.48,"OLS":0.10,"Ridge":0.11,"Lasso":0.16,"Bayesian":0.11},
      {"panel":"D","actual":0.50,"OLS":0.72,"Ridge":0.72,"Lasso":0.70,"Bayesian":0.72},
      {"panel":"D","actual":0.52,"OLS":0.58,"Ridge":0.58,"Lasso":0.59,"Bayesian":0.58},
      {"panel":"D","actual":0.53,"OLS":0.77,"Ridge":0.77,"Lasso":0.74,"Bayesian":0.77},
      {"panel":"D","actual":0.55,"OLS":0.66,"Ridge":0.66,"Lasso":0.66,"Bayesian":0.66},
      {"panel":"D","actual":0.57,"OLS":0.72,"Ridge":0.72,"Lasso":0.71,"Bayesian":0.72},
      {"panel":"D","actual":0.60,"OLS":0.62,"Ridge":0.62,"Lasso":0.64,"Bayesian":0.62},
      {"panel":"D","actual":0.63,"OLS":0.72,"Ridge":0.72,"Lasso":0.92,"Bayesian":0.72},
      {"panel":"D","actual":0.65,"OLS":0.59,"Ridge":0.59,"Lasso":0.61,"Bayesian":0.59},
      {"panel":"D","actual":0.70,"OLS":0.53,"Ridge":0.53,"Lasso":0.55,"Bayesian":0.53},
      {"panel":"D","actual":0.74,"OLS":0.61,"Ridge":0.61,"Lasso":0.62,"Bayesian":0.61},
      {"panel":"D","actual":0.78,"OLS":0.52,"Ridge":0.52,"Lasso":0.50,"Bayesian":0.52},
      {"panel":"D","actual":0.81,"OLS":0.82,"Ridge":0.82,"Lasso":0.78,"Bayesian":0.82},
      {"panel":"D","actual":0.83,"OLS":0.59,"Ridge":0.59,"Lasso":0.60,"Bayesian":0.59},
      {"panel":"D","actual":0.89,"OLS":0.87,"Ridge":0.87,"Lasso":0.77,"Bayesian":0.86},
      {"panel":"D","actual":0.93,"OLS":0.84,"Ridge":0.84,"Lasso":0.74,"Bayesian":0.83},
      {"panel":"D","actual":1.03,"OLS":0.82,"Ridge":0.82,"Lasso":0.73,"Bayesian":0.81},
      {"panel":"D","actual":1.06,"OLS":1.00,"Ridge":0.99,"Lasso":0.90,"Bayesian":0.98},
      {"panel":"D","actual":1.20,"OLS":0.97,"Ridge":0.93,"Lasso":0.84,"Bayesian":0.90},
      {"panel":"D","actual":1.22,"OLS":0.79,"Ridge":0.79,"Lasso":0.80,"Bayesian":0.79},
      {"panel":"D","actual":1.22,"OLS":0.57,"Ridge":0.57,"Lasso":0.60,"Bayesian":0.58},
      {"panel":"D","actual":1.54,"OLS":1.01,"Ridge":0.97,"Lasso":0.90,"Bayesian":0.98},
      {"panel":"D","actual":1.66,"OLS":1.21,"Ridge":1.21,"Lasso":1.02,"Bayesian":1.20},
      {"panel":"D","actual":1.69,"OLS":1.38,"Ridge":1.31,"Lasso":1.10,"Bayesian":1.26},
      {"panel":"D","actual":1.73,"OLS":0.80,"Ridge":0.80,"Lasso":0.80,"Bayesian":0.80},
      {"panel":"D","actual":1.78,"OLS":1.10,"Ridge":1.10,"Lasso":1.05,"Bayesian":1.09},
      {"panel":"D","actual":1.90,"OLS":1.10,"Ridge":1.10,"Lasso":1.05,"Bayesian":1.09},
      {"panel":"D","actual":2.165,"OLS":1.28,"Ridge":1.28,"Lasso":1.26,"Bayesian":1.28},
      {"panel":"D","actual":3.55,"OLS":1.71,"Ridge":1.71,"Lasso":1.49,"Bayesian":1.68},
      {"panel":"D","actual":0.12,"OLS":0.30,"Ridge":0.30,"Lasso":0.31,"Bayesian":0.30},
      {"panel":"D","actual":0.13,"OLS":0.38,"Ridge":0.38,"Lasso":0.37,"Bayesian":0.38},
      {"panel":"D","actual":0.13,"OLS":0.12,"Ridge":0.12,"Lasso":0.15,"Bayesian":0.12},
      {"panel":"D","actual":0.14,"OLS":0.45,"Ridge":0.45,"Lasso":0.43,"Bayesian":0.45},
      {"panel":"D","actual":0.14,"OLS":0.26,"Ridge":0.26,"Lasso":0.27,"Bayesian":0.26},
      {"panel":"D","actual":0.15,"OLS":0.18,"Ridge":0.18,"Lasso":0.20,"Bayesian":0.18},
      {"panel":"D","actual":0.15,"OLS":0.52,"Ridge":0.52,"Lasso":0.49,"Bayesian":0.52},
      {"panel":"D","actual":0.16,"OLS":0.33,"Ridge":0.33,"Lasso":0.33,"Bayesian":0.33},
      {"panel":"D","actual":0.16,"OLS":0.41,"Ridge":0.41,"Lasso":0.40,"Bayesian":0.41},
      {"panel":"D","actual":0.17,"OLS":0.09,"Ridge":0.09,"Lasso":0.12,"Bayesian":0.09},
      {"panel":"D","actual":0.17,"OLS":0.27,"Ridge":0.27,"Lasso":0.28,"Bayesian":0.27},
      {"panel":"D","actual":0.18,"OLS":0.21,"Ridge":0.21,"Lasso":0.23,"Bayesian":0.21},
      {"panel":"D","actual":0.18,"OLS":0.48,"Ridge":0.48,"Lasso":0.46,"Bayesian":0.48},
      {"panel":"D","actual":0.19,"OLS":0.30,"Ridge":0.30,"Lasso":0.31,"Bayesian":0.30},
      {"panel":"D","actual":0.19,"OLS":0.56,"Ridge":0.56,"Lasso":0.53,"Bayesian":0.56},
      {"panel":"D","actual":0.20,"OLS":0.15,"Ridge":0.15,"Lasso":0.17,"Bayesian":0.15},
      {"panel":"D","actual":0.20,"OLS":0.37,"Ridge":0.37,"Lasso":0.37,"Bayesian":0.37},
      {"panel":"D","actual":0.21,"OLS":0.26,"Ridge":0.26,"Lasso":0.27,"Bayesian":0.26},
      {"panel":"D","actual":0.21,"OLS":0.46,"Ridge":0.46,"Lasso":0.45,"Bayesian":0.46},
      {"panel":"D","actual":0.22,"OLS":0.07,"Ridge":0.07,"Lasso":0.10,"Bayesian":0.07},
      {"panel":"D","actual":0.22,"OLS":0.31,"Ridge":0.31,"Lasso":0.32,"Bayesian":0.31},
      {"panel":"D","actual":0.23,"OLS":0.52,"Ridge":0.52,"Lasso":0.50,"Bayesian":0.52},
      {"panel":"D","actual":0.23,"OLS":0.39,"Ridge":0.39,"Lasso":0.39,"Bayesian":0.39},
      {"panel":"D","actual":0.24,"OLS":0.21,"Ridge":0.21,"Lasso":0.23,"Bayesian":0.21},
      {"panel":"D","actual":0.24,"OLS":0.33,"Ridge":0.33,"Lasso":0.34,"Bayesian":0.33},
      {"panel":"D","actual":0.25,"OLS":0.44,"Ridge":0.44,"Lasso":0.44,"Bayesian":0.44},
      {"panel":"D","actual":0.25,"OLS":0.13,"Ridge":0.13,"Lasso":0.15,"Bayesian":0.13},
      {"panel":"D","actual":0.26,"OLS":0.27,"Ridge":0.27,"Lasso":0.28,"Bayesian":0.27},
      {"panel":"D","actual":0.26,"OLS":0.38,"Ridge":0.38,"Lasso":0.38,"Bayesian":0.38},
      {"panel":"D","actual":0.27,"OLS":0.51,"Ridge":0.51,"Lasso":0.50,"Bayesian":0.51},
      {"panel":"D","actual":0.27,"OLS":0.22,"Ridge":0.22,"Lasso":0.24,"Bayesian":0.22},
      {"panel":"D","actual":0.28,"OLS":0.34,"Ridge":0.34,"Lasso":0.35,"Bayesian":0.34},
      {"panel":"D","actual":0.28,"OLS":0.45,"Ridge":0.45,"Lasso":0.45,"Bayesian":0.45},
      {"panel":"D","actual":0.29,"OLS":0.26,"Ridge":0.26,"Lasso":0.27,"Bayesian":0.26},
      {"panel":"D","actual":0.29,"OLS":0.58,"Ridge":0.58,"Lasso":0.56,"Bayesian":0.58},
      {"panel":"D","actual":0.30,"OLS":0.40,"Ridge":0.40,"Lasso":0.40,"Bayesian":0.40},
      {"panel":"D","actual":0.30,"OLS":0.15,"Ridge":0.15,"Lasso":0.17,"Bayesian":0.15},
      {"panel":"D","actual":0.31,"OLS":0.31,"Ridge":0.31,"Lasso":0.32,"Bayesian":0.31},
      {"panel":"D","actual":0.31,"OLS":0.54,"Ridge":0.54,"Lasso":0.52,"Bayesian":0.54},
      {"panel":"D","actual":0.32,"OLS":0.47,"Ridge":0.47,"Lasso":0.46,"Bayesian":0.47},
      {"panel":"D","actual":0.33,"OLS":0.22,"Ridge":0.22,"Lasso":0.24,"Bayesian":0.22},
      {"panel":"D","actual":0.33,"OLS":0.36,"Ridge":0.36,"Lasso":0.37,"Bayesian":0.36},
      {"panel":"D","actual":0.34,"OLS":0.62,"Ridge":0.62,"Lasso":0.60,"Bayesian":0.62},
      {"panel":"D","actual":0.34,"OLS":0.44,"Ridge":0.44,"Lasso":0.44,"Bayesian":0.44},
      {"panel":"D","actual":0.35,"OLS":0.28,"Ridge":0.28,"Lasso":0.29,"Bayesian":0.28},
      {"panel":"D","actual":0.36,"OLS":0.53,"Ridge":0.53,"Lasso":0.52,"Bayesian":0.53},
      {"panel":"D","actual":0.36,"OLS":0.19,"Ridge":0.19,"Lasso":0.21,"Bayesian":0.19},
      {"panel":"D","actual":0.37,"OLS":0.45,"Ridge":0.45,"Lasso":0.45,"Bayesian":0.45},
      {"panel":"D","actual":0.38,"OLS":0.34,"Ridge":0.34,"Lasso":0.35,"Bayesian":0.34},
      {"panel":"D","actual":0.38,"OLS":0.60,"Ridge":0.60,"Lasso":0.58,"Bayesian":0.60},
      {"panel":"D","actual":0.39,"OLS":0.41,"Ridge":0.41,"Lasso":0.42,"Bayesian":0.41},
      {"panel":"D","actual":0.40,"OLS":0.68,"Ridge":0.68,"Lasso":0.65,"Bayesian":0.68},
      {"panel":"D","actual":0.41,"OLS":0.50,"Ridge":0.50,"Lasso":0.50,"Bayesian":0.50},
      {"panel":"D","actual":0.42,"OLS":0.36,"Ridge":0.36,"Lasso":0.38,"Bayesian":0.36},
      {"panel":"D","actual":0.43,"OLS":0.58,"Ridge":0.58,"Lasso":0.57,"Bayesian":0.58},
      {"panel":"D","actual":0.44,"OLS":0.47,"Ridge":0.47,"Lasso":0.48,"Bayesian":0.47},
      {"panel":"D","actual":0.45,"OLS":0.66,"Ridge":0.66,"Lasso":0.64,"Bayesian":0.66},
      {"panel":"D","actual":0.47,"OLS":0.55,"Ridge":0.55,"Lasso":0.55,"Bayesian":0.55},
      {"panel":"D","actual":0.49,"OLS":0.67,"Ridge":0.67,"Lasso":0.66,"Bayesian":0.67},
      {"panel":"D","actual":0.51,"OLS":0.64,"Ridge":0.64,"Lasso":0.63,"Bayesian":0.64},
      {"panel":"D","actual":0.54,"OLS":0.70,"Ridge":0.70,"Lasso":0.69,"Bayesian":0.70},
      {"panel":"D","actual":0.58,"OLS":0.68,"Ridge":0.68,"Lasso":0.67,"Bayesian":0.68}
    ]
  },
  "columns": 2,
  "spacing": {"row": 6, "column": 10},
  "resolve": {"scale": {"x": "independent", "y": "independent", "color": "independent"}, "legend": {"color": "independent"}},
  "concat": [
    {
      "width": 472, "height": 284,
      "title": "Cut on error parallax 7%, full dataset",
      "layer": [
        {
          "data": {"name": "pts"},
          "transform": [{"filter": "datum.panel == 'A'"}, {"fold": ["OLS", "Ridge", "Lasso", "Bayesian"], "as": ["model", "pred"]}],
          "mark": {"type": "point", "shape": "M-1,-1L1,1M-1,1L1,-1", "filled": false, "size": 38, "strokeWidth": 1.2, "opacity": 0.55},
          "encoding": {
            "x": {"field": "actual", "type": "quantitative", "scale": {"domain": [-0.103, 5.496], "nice": false, "zero": false}, "axis": {"values": [0, 1, 2, 3, 4, 5], "format": "d", "title": null}},
            "y": {"field": "pred", "type": "quantitative", "scale": {"domain": [-0.166, 5.514], "nice": false, "zero": false}, "axis": {"values": [0, 1, 2, 3, 4, 5], "format": "d", "title": "Predicted parallax values", "titlePadding": 1}},
            "color": {"field": "model", "type": "nominal", "scale": {"domain": ["OLS", "Ridge", "Lasso", "Bayesian"], "range": ["#ff0000", "#0000ff", "#008000", "#ffa500"]}, "legend": {"title": null, "labelExpr": "datum.label == 'Ridge' ? 'Ridge (α=2.3)' : datum.label == 'Lasso' ? 'Lasso (α=0.02)' : datum.label == 'Bayesian' ? 'Bayesian (α₁=1e-05, α₂=1e-05, λ₁=1e-05, λ₂=1e-05)' : datum.label"}},
            "order": {"field": "model", "sort": "descending"}
          }
        },
        {
          "data": {"name": "pts"},
          "transform": [{"filter": "datum.panel == 'A'"}, {"aggregate": [{"op": "min", "field": "actual", "as": "lo"}, {"op": "max", "field": "actual", "as": "hi"}]}, {"fold": ["lo", "hi"], "as": ["end", "v"]}],
          "mark": {"type": "line", "color": "black", "strokeDash": [8, 4], "strokeWidth": 1.8},
          "encoding": {
            "x": {"field": "v", "type": "quantitative", "axis": {"values": [0, 1, 2, 3, 4, 5], "format": "d", "title": null}},
            "y": {"field": "v", "type": "quantitative", "axis": {"values": [0, 1, 2, 3, 4, 5], "format": "d", "title": "Predicted parallax values", "titlePadding": 1}}
          }
        }
      ]
    },
    {
      "width": 476, "height": 284,
      "title": "Cut on error parallax 7%, dataset without errors",
      "layer": [
        {
          "data": {"name": "pts"},
          "transform": [{"filter": "datum.panel == 'B'"}, {"fold": ["OLS", "Ridge", "Lasso", "Bayesian"], "as": ["model", "pred"]}],
          "mark": {"type": "point", "shape": "M-1,-1L1,1M-1,1L1,-1", "filled": false, "size": 38, "strokeWidth": 1.2, "opacity": 0.55},
          "encoding": {
            "x": {"field": "actual", "type": "quantitative", "scale": {"domain": [-0.106, 5.5], "nice": false, "zero": false}, "axis": {"values": [0, 1, 2, 3, 4, 5], "format": "d", "title": null}},
            "y": {"field": "pred", "type": "quantitative", "scale": {"domain": [-0.22, 5.51], "nice": false, "zero": false}, "axis": {"values": [0, 1, 2, 3, 4, 5], "labels": false, "title": null}},
            "color": {"field": "model", "type": "nominal", "scale": {"domain": ["OLS", "Ridge", "Lasso", "Bayesian"], "range": ["#ff0000", "#0000ff", "#008000", "#ffa500"]}, "legend": null},
            "order": {"field": "model", "sort": "descending"}
          }
        },
        {
          "data": {"name": "pts"},
          "transform": [{"filter": "datum.panel == 'B'"}, {"aggregate": [{"op": "min", "field": "actual", "as": "lo"}, {"op": "max", "field": "actual", "as": "hi"}]}, {"fold": ["lo", "hi"], "as": ["end", "v"]}],
          "mark": {"type": "line", "color": "black", "strokeDash": [8, 4], "strokeWidth": 1.8},
          "encoding": {
            "x": {"field": "v", "type": "quantitative", "axis": {"values": [0, 1, 2, 3, 4, 5], "format": "d", "title": null}},
            "y": {"field": "v", "type": "quantitative", "axis": {"values": [0, 1, 2, 3, 4, 5], "labels": false, "title": null}}
          }
        }
      ]
    },
    {
      "width": 472, "height": 286,
      "title": "Cut on error parallax 10%, full dataset",
      "layer": [
        {
          "data": {"name": "pts"},
          "transform": [{"filter": "datum.panel == 'C'"}, {"fold": ["OLS", "Ridge", "Lasso", "Bayesian"], "as": ["model", "pred"]}],
          "mark": {"type": "point", "shape": "M-1,-1L1,1M-1,1L1,-1", "filled": false, "size": 38, "strokeWidth": 1.2, "opacity": 0.55},
          "encoding": {
            "x": {"field": "actual", "type": "quantitative", "scale": {"domain": [-0.05, 3.72], "nice": false, "zero": false}, "axis": {"values": [0, 0.5, 1, 1.5, 2, 2.5, 3, 3.5], "format": ".1f", "title": "Actual parallax values"}},
            "y": {"field": "pred", "type": "quantitative", "scale": {"domain": [-0.13, 3.70], "nice": false, "zero": false}, "axis": {"values": [0, 0.5, 1, 1.5, 2, 2.5, 3, 3.5], "format": ".1f", "title": "Predicted parallax values"}},
            "color": {"field": "model", "type": "nominal", "scale": {"domain": ["OLS", "Ridge", "Lasso", "Bayesian"], "range": ["#ff0000", "#0000ff", "#008000", "#ffa500"]}, "legend": {"title": null, "labelExpr": "datum.label == 'Ridge' ? 'Ridge (α=2.3)' : datum.label == 'Lasso' ? 'Lasso (α=0.02)' : datum.label == 'Bayesian' ? 'Bayesian (α₁=1e-05, α₂=1e-05, λ₁=1e-05, λ₂=1e-05)' : datum.label"}},
            "order": {"field": "model", "sort": "descending"}
          }
        },
        {
          "data": {"name": "pts"},
          "transform": [{"filter": "datum.panel == 'C'"}, {"aggregate": [{"op": "min", "field": "actual", "as": "lo"}, {"op": "max", "field": "actual", "as": "hi"}]}, {"fold": ["lo", "hi"], "as": ["end", "v"]}],
          "mark": {"type": "line", "color": "black", "strokeDash": [8, 4], "strokeWidth": 1.8},
          "encoding": {
            "x": {"field": "v", "type": "quantitative", "axis": {"values": [0, 0.5, 1, 1.5, 2, 2.5, 3, 3.5], "format": ".1f", "title": "Actual parallax values"}},
            "y": {"field": "v", "type": "quantitative", "axis": {"values": [0, 0.5, 1, 1.5, 2, 2.5, 3, 3.5], "format": ".1f", "title": "Predicted parallax values"}}
          }
        }
      ]
    },
    {
      "width": 476, "height": 286,
      "title": "Cut on error parallax 10%, dataset without errors",
      "layer": [
        {
          "data": {"name": "pts"},
          "transform": [{"filter": "datum.panel == 'D'"}, {"fold": ["OLS", "Ridge", "Lasso", "Bayesian"], "as": ["model", "pred"]}],
          "mark": {"type": "point", "shape": "M-1,-1L1,1M-1,1L1,-1", "filled": false, "size": 38, "strokeWidth": 1.2, "opacity": 0.55},
          "encoding": {
            "x": {"field": "actual", "type": "quantitative", "scale": {"domain": [-0.06, 3.69], "nice": false, "zero": false}, "axis": {"values": [0, 0.5, 1, 1.5, 2, 2.5, 3, 3.5], "format": ".1f", "title": "Actual parallax values"}},
            "y": {"field": "pred", "type": "quantitative", "scale": {"domain": [-0.66, 3.75], "nice": false, "zero": false}, "axis": {"values": [-0.5, 0, 0.5, 1, 1.5, 2, 2.5, 3, 3.5], "labels": false, "title": null}},
            "color": {"field": "model", "type": "nominal", "scale": {"domain": ["OLS", "Ridge", "Lasso", "Bayesian"], "range": ["#ff0000", "#0000ff", "#008000", "#ffa500"]}, "legend": null},
            "order": {"field": "model", "sort": "descending"}
          }
        },
        {
          "data": {"name": "pts"},
          "transform": [{"filter": "datum.panel == 'D'"}, {"aggregate": [{"op": "min", "field": "actual", "as": "lo"}, {"op": "max", "field": "actual", "as": "hi"}]}, {"fold": ["lo", "hi"], "as": ["end", "v"]}],
          "mark": {"type": "line", "color": "black", "strokeDash": [8, 4], "strokeWidth": 1.8},
          "encoding": {
            "x": {"field": "v", "type": "quantitative", "axis": {"values": [0, 0.5, 1, 1.5, 2, 2.5, 3, 3.5], "format": ".1f", "title": "Actual parallax values"}},
            "y": {"field": "v", "type": "quantitative", "axis": {"values": [-0.5, 0, 0.5, 1, 1.5, 2, 2.5, 3, 3.5], "labels": false, "title": null}}
          }
        }
      ]
    }
  ]
}
